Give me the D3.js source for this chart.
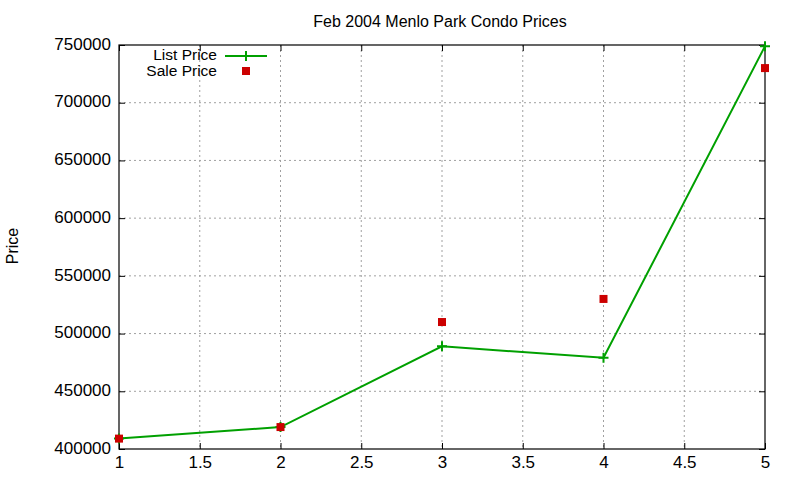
<!DOCTYPE html>
<html>
<head>
<meta charset="utf-8">
<script src="https://cdn.jsdelivr.net/npm/d3@7"></script>
<style>
  body { margin: 0; background: #fff; }
  text { font-family: "Liberation Sans", Arial, sans-serif; }
</style>
</head>
<body>
<div id="chart"></div>
<script>
// data
var listingNo = [1, 2, 3, 4, 5];
var listPrice = [409000, 419000, 489000, 479000, 749000];
var salePrice = [409000, 419000, 510000, 530000, 730000];
var xTicks = [1, 1.5, 2, 2.5, 3, 3.5, 4, 4.5, 5];
var yTicks = [400000, 450000, 500000, 550000, 600000, 650000, 700000, 750000];

var margin = {top: 45, right: 35, bottom: 31, left: 119},
    width = 800 - margin.left - margin.right,
    height = 480 - margin.top - margin.bottom;

var svg = d3.select("#chart").append("svg")
    .attr("width", 800).attr("height", 480);

var g = svg.append("g")
    .attr("transform", "translate(" + margin.left + "," + margin.top + ")");

var x = d3.scaleLinear().domain([1, 5]).range([0, width]);
var y = d3.scaleLinear().domain([400000, 750000]).range([height, 0]);

// grid
g.append("g").selectAll("line").data(xTicks.slice(1, -1)).enter().append("line")
    .attr("x1", d => x(d)).attr("x2", d => x(d))
    .attr("y1", 0).attr("y2", height)
    .attr("stroke", "#a0a0a0").attr("stroke-dasharray", "2,3");
g.append("g").selectAll("line").data(yTicks.slice(1, -1)).enter().append("line")
    .attr("x1", 0).attr("x2", width)
    .attr("y1", d => y(d)).attr("y2", d => y(d))
    .attr("stroke", "#a0a0a0").attr("stroke-dasharray", "2,3");

// axes, gnuplot style: ticks inward on all four sides
function styleAxis(sel) {
  sel.select(".domain").remove();
  sel.selectAll("text").attr("font-size", 17).attr("fill", "#000")
     .attr("font-family", "Liberation Sans, Arial, sans-serif");
  sel.selectAll("line").attr("stroke", "#000");
}
g.append("g").attr("transform", "translate(0," + height + ")")
  .call(d3.axisBottom(x).tickValues(xTicks).tickSize(-6).tickPadding(7).tickFormat(d3.format("")))
  .call(styleAxis);
g.append("g")
  .call(d3.axisTop(x).tickValues(xTicks).tickSize(-6).tickFormat(""))
  .call(styleAxis);
g.append("g")
  .call(d3.axisLeft(y).tickValues(yTicks).tickSize(-6).tickPadding(8).tickFormat(d3.format("d")))
  .call(styleAxis)
  .selectAll("text").attr("dy", "0.25em");
g.append("g").attr("transform", "translate(" + width + ",0)")
  .call(d3.axisRight(y).tickValues(yTicks).tickSize(-6).tickFormat(""))
  .call(styleAxis);

g.append("rect").attr("width", width).attr("height", height)
  .attr("fill", "none").attr("stroke", "#000").attr("stroke-width", 1.2);

// list price line
var line = d3.line().x((d, i) => x(listingNo[i])).y(d => y(d));
g.append("path").datum(listPrice).attr("d", line)
  .attr("fill", "none").attr("stroke", "#00a000").attr("stroke-width", 2);

function plus(sel, cx, cy) {
  sel.append("path")
    .attr("d", "M" + (cx - 5) + "," + cy + "h10M" + cx + "," + (cy - 5) + "v10")
    .attr("stroke", "#00a000").attr("stroke-width", 2);
}
listPrice.forEach(function(d, i) { plus(g, x(listingNo[i]), y(d)); });

// sale price squares
g.selectAll(".sale").data(salePrice).enter().append("rect")
  .attr("class", "sale")
  .attr("x", (d, i) => x(listingNo[i]) - 4)
  .attr("y", d => y(d) - 4)
  .attr("width", 8).attr("height", 8)
  .attr("fill", "#cc0000");

// title and label
svg.append("text").attr("x", 440).attr("y", 27).attr("text-anchor", "middle")
  .attr("font-size", 16).text("Feb 2004 Menlo Park Condo Prices");
svg.append("text").attr("transform", "translate(18,246) rotate(-90)")
  .attr("text-anchor", "middle").attr("font-size", 16).text("Price");

// legend
var leg = svg.append("g");
leg.append("text").attr("x", 217).attr("y", 60).attr("text-anchor", "end")
  .attr("font-size", 15.5).text("List Price");
leg.append("line").attr("x1", 225).attr("x2", 267).attr("y1", 56).attr("y2", 56)
  .attr("stroke", "#00a000").attr("stroke-width", 2);
plus(leg, 246, 56);
leg.append("text").attr("x", 217).attr("y", 76).attr("text-anchor", "end")
  .attr("font-size", 15.5).text("Sale Price");
leg.append("rect").attr("x", 242).attr("y", 67).attr("width", 8).attr("height", 8)
  .attr("fill", "#cc0000");
</script>
</body>
</html>
